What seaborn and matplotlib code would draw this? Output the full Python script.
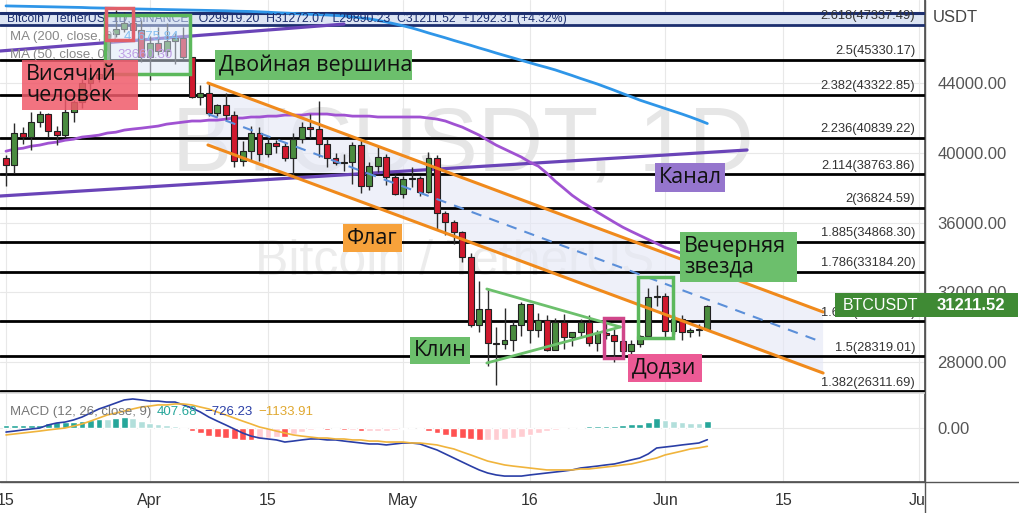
import numpy as np
import pandas as pd
import matplotlib
matplotlib.use("Agg")
import matplotlib.pyplot as plt
import matplotlib.dates as mdates
from matplotlib.patches import Rectangle, Polygon
from matplotlib.lines import Line2D
import seaborn as sns

# daily candles, Mar 15 - Jun 6
dates = pd.date_range("2022-03-15", "2022-06-06", freq="D")

opens = [39671, 39280, 41114, 40917, 41757, 42201, 41262, 41002, 42364, 42882,
         43991, 44313, 44511, 46827, 47122, 47434, 47067, 45510, 46283, 45811,
         46407, 46580, 45497, 43170, 43444, 42252, 42753, 42158, 39530, 40074,
         41147, 39942, 40552, 40378, 39678, 40801, 41493, 41358, 40480, 39709,
         39441, 39450, 40426, 38112, 39235, 39742, 38596, 37630, 38468, 38525,
         37728, 39690, 36552, 36014, 35468, 34038, 30100, 31018, 29104, 29031,
         29284, 30099, 31306, 29849, 30425, 28716, 30297, 29445, 29700, 30286,
         29101, 29655, 29542, 29201, 28630, 29031, 29468, 31734, 31802, 29805,
         30452, 29700, 29865, 29919.20]
highs = [39887, 41718, 41478, 42325, 42400, 42296, 41544, 43361, 43025, 44220,
         45094, 44792, 46999, 48189, 48096, 47700, 47600, 46720, 47213, 47444,
         46890, 47200, 45507, 43900, 43970, 42800, 43410, 42414, 40699, 41561,
         41500, 40870, 40709, 40595, 41116, 41760, 42199, 42976, 40795, 39980,
         39940, 40616, 40797, 39474, 40372, 39925, 38795, 38675, 39167, 38651,
         40023, 39845, 36675, 36146, 35510, 34243, 32659, 32163, 30033, 31083,
         30343, 31460, 31330, 30788, 30700, 30545, 30777, 29600, 30487, 30680,
         29835, 30223, 29876, 29397, 29250, 29531, 32222, 32399, 31982, 30690,
         30676, 29950, 30189, 31272.07]
lows = [38098, 38828, 40500, 40135, 41499, 40911, 40467, 40875, 41751, 42560,
        43579, 44071, 44422, 46663, 46950, 46445, 45200, 44200, 45620, 45530,
        45118, 45353, 43121, 42727, 42107, 42125, 41868, 39200, 39254, 39588,
        39551, 39766, 39991, 39546, 38536, 40571, 40820, 39751, 39177, 39285,
        38929, 38200, 37702, 37867, 38881, 38175, 37578, 37386, 38052, 37517,
        37670, 35571, 35258, 34785, 33713, 30033, 29730, 27785, 26700, 28751,
        28630, 29480, 29088, 29450, 28654, 28669, 28730, 28947, 29450, 28893,
        28631, 29294, 28019, 28282, 28450, 28839, 29299, 31200, 29301, 29595,
        29250, 29450, 29519, 29890.23]
closes = [39280, 41114, 40917, 41757, 42201, 41262, 41002, 42364, 42882, 43991,
          44313, 44511, 46827, 47122, 47434, 47067, 45510, 46283, 45811, 46407,
          46580, 45497, 43170, 43444, 42252, 42753, 42158, 39530, 40074, 41147,
          39942, 40552, 40378, 39678, 40801, 41493, 41358, 40480, 39709, 39441,
          39450, 40426, 38112, 39235, 39742, 38596, 37630, 38468, 38525, 37728,
          39690, 36552, 36014, 35468, 34038, 30100, 31018, 29104, 29031, 29284,
          30099, 31306, 29849, 30425, 28716, 30297, 29445, 29700, 30286, 29101,
          29655, 29542, 29201, 28630, 29031, 29468, 31734, 31802, 29805, 30452,
          29700, 29865, 29920, 31211.52]

ma200 = [48420, 48410, 48400, 48390, 48380, 48370, 48360, 48350, 48340, 48330,
         48310, 48300, 48290, 48280, 48270, 48250, 48240, 48230, 48220, 48210,
         48200, 48190, 48180, 48170, 48160, 48150, 48140, 48120, 48110, 48100,
         48080, 48060, 48030, 48010, 47990, 47960, 47940, 47920, 47900, 47870,
         47850, 47790, 47730, 47680, 47590, 47500, 47390, 47280, 47160, 47020,
         46870, 46730, 46590, 46440, 46300, 46160, 46010, 45870, 45720, 45580,
         45440, 45300, 45160, 45020, 44890, 44750, 44590, 44430, 44260, 44100,
         43940, 43760, 43580, 43390, 43210, 43020, 42860, 42700, 42540, 42380,
         42220, 42050, 41870, 41675.84]
ma50 = [40090, 40210, 40260, 40380, 40440, 40550, 40610, 40720, 40780, 40900,
        40950, 41010, 41130, 41180, 41300, 41360, 41410, 41470, 41530, 41640,
        41700, 41760, 41820, 41820, 41870, 41870, 41930, 41990, 41990, 42050,
        42050, 42100, 42100, 42160, 42160, 42160, 42220, 42220, 42220, 42160,
        42160, 42100, 42100, 42100, 42050, 42050, 42050, 42050, 42050, 42050,
        41990, 41930, 41820, 41640, 41470, 41240, 41010, 40720, 40440, 40210,
        39980, 39750, 39460, 39230, 38830, 38370, 37970, 37560, 37220, 36930,
        36590, 36300, 36010, 35730, 35490, 35260, 35030, 34800, 34570, 34400,
        34230, 34060, 33890, 33660.30]

macd_line = [-250, -190, -120, -60, 0, 190, 310, 370, 500, 680,
             930, 1180, 1360, 1550, 1740, 1800, 1740, 1670, 1670, 1610,
             1610, 1430, 1240, 990, 680, 430, 190, -60, -310, -500,
             -620, -680, -740, -870, -810, -740, -680, -680, -740, -740,
             -810, -870, -930, -990, -990, -1050, -990, -930, -930, -990,
             -1180, -1360, -1610, -1860, -2110, -2360, -2600, -2790, -2910, -2980,
             -2980, -2980, -2910, -2850, -2790, -2730, -2670, -2600, -2480, -2420,
             -2360, -2290, -2230, -2110, -1980, -1860, -1610, -1240, -1180, -1120,
             -1050, -990, -930, -726.23]
signal_line = [-430, -370, -310, -250, -190, -120, -60, 0, 120, 250,
               430, 620, 810, 930, 1050, 1180, 1300, 1360, 1430, 1430,
               1490, 1490, 1430, 1300, 1180, 990, 810, 620, 430, 250,
               60, -60, -190, -310, -430, -500, -560, -620, -620, -680,
               -680, -740, -740, -810, -810, -870, -870, -870, -930, -930,
               -990, -1050, -1180, -1300, -1490, -1670, -1860, -2050, -2170, -2290,
               -2360, -2420, -2480, -2540, -2600, -2600, -2600, -2600, -2540, -2540,
               -2480, -2420, -2360, -2290, -2230, -2110, -1980, -1860, -1670, -1550,
               -1430, -1300, -1230, -1133.91]

fib_names = ["2.618", "2.5", "2.382", "2.236", "2.114", "2", "1.885", "1.786", "1.618", "1.5", "1.382"]
fib_prices = [47337.49, 45330.17, 43322.85, 40839.22, 38763.86, 36824.59,
              34868.30, 33184.20, 30326.33, 28319.01, 26311.69]

price_ticks = [44000, 40000, 36000, 32000, 28000]
date_ticks = ["2022-03-15", "2022-04-01", "2022-04-15", "2022-05-01",
              "2022-05-16", "2022-06-01", "2022-06-15", "2022-07-01"]
date_labels = ["15", "Apr", "15", "May", "16", "Jun", "15", "Jul"]

# drawings: (days after Mar 15, price)
flag_upper = [(23.9, 44000), (96.7, 30870)]
flag_lower = [(23.9, 40445), (96.7, 27370)]
channel_upper = [(-0.7, 45835), (40.0, 47380)]
channel_lower = [(-0.7, 37520), (87.7, 40158)]
wedge_upper = [(56.9, 32190), (72.7, 30010)]
wedge_lower = [(56.9, 27945), (72.7, 30010)]
# pattern boxes: (day0, day1, price0, price1)
hang_box = (11.8, 15.0, 46466, 48300)
top_box = (11.7, 21.8, 44516, 47899)
doji_box = (70.8, 73.0, 28232, 30525)
star_box = (74.8, 78.9, 29378, 32876)

W, H = 1019, 513
sns.set_theme(style="white")
plt.rcParams["font.family"] = ["Liberation Sans", "DejaVu Sans"]

fig = plt.figure(figsize=(W / 100, H / 100), dpi=100)
ax = fig.add_axes([0, 1 - 393 / H, 925 / W, 393 / H])
axm = fig.add_axes([0, 1 - 482 / H, 925 / W, 89 / H])

t0 = mdates.date2num(dates[0])
x = mdates.date2num(dates)


def X(d):
    return t0 + d


def fx(px):
    return px / W


def fy(py):
    return 1 - py / H


# grid
for dt in date_ticks:
    xv = mdates.date2num(pd.Timestamp(dt))
    ax.axvline(xv, color="#e8e8e8", lw=0.8, zorder=0)
    axm.axvline(xv, color="#e8e8e8", lw=0.8, zorder=0)
for p in price_ticks:
    ax.axhline(p, color="#e8e8e8", lw=0.8, zorder=0)
axm.axhline(0, color="#e8e8e8", lw=0.8, zorder=0)

# watermark
ax.text(0.5, 0.625, "BTCUSDT, 1D", transform=ax.transAxes, ha="center", va="center",
        fontsize=65, color="#e6e6e6", zorder=0)
ax.text(0.492, 0.333, "Bitcoin / TetherUS", transform=ax.transAxes, ha="center", va="center",
        fontsize=36, color="#ececec", zorder=0)

# flag channel
(u0, u1), (l0, l1) = flag_upper, flag_lower
ax.add_patch(Polygon([(X(u0[0]), u0[1]), (X(u1[0]), u1[1]), (X(l1[0]), l1[1]), (X(l0[0]), l0[1])],
                     closed=True, facecolor="#e4e7f6", alpha=0.6, edgecolor="none", zorder=1))
ax.plot([X(u0[0]), X(u1[0])], [u0[1], u1[1]], color="#f08a1c", lw=2.2, zorder=8)
ax.plot([X(l0[0]), X(l1[0])], [l0[1], l1[1]], color="#f08a1c", lw=2.2, zorder=8)
ax.plot([X(u0[0]), X(u1[0])], [(u0[1] + l0[1]) / 2, (u1[1] + l1[1]) / 2],
        color="#5b8fd9", lw=1.5, dashes=(5, 4), zorder=8)

# fib levels
top_edge = 48014
ax.axhspan(fib_prices[0], top_edge, color="#dde5f4", zorder=2)
ax.axhline(top_edge, color="#1d2f6f", lw=2.2, zorder=3)
for name, p in zip(fib_names, fib_prices):
    col = "#1d2f6f" if name == "2.618" else "black"
    ax.axhline(p, color=col, lw=2, zorder=3)
    ax.annotate(f"{name}({p:.2f})", (X(107.6), p), xytext=(0, 2), textcoords="offset points",
                ha="right", va="bottom", fontsize=9.3, color="#333333", zorder=9)

# purple channel
for seg in (channel_upper, channel_lower):
    ax.plot([X(seg[0][0]), X(seg[1][0])], [seg[0][1], seg[1][1]], color="#6a44b8", lw=2.3, zorder=4)

# moving averages
sns.lineplot(x=x, y=ma200, ax=ax, color="#2f96e8", lw=2, zorder=4)
sns.lineplot(x=x, y=ma50, ax=ax, color="#a052d2", lw=2, zorder=4)

# candles
o, h, l, c = map(np.array, (opens, highs, lows, closes))
body_col = np.where(c >= o, "#4a8c3f", "#d0192e")
ax.vlines(x, l, h, color="#2b2b2b", lw=1, zorder=6)
ax.bar(x, np.abs(c - o), bottom=np.minimum(o, c), width=0.7, color=body_col,
       edgecolor="#222222", linewidth=0.8, zorder=7)

# wedge
for seg in (wedge_upper, wedge_lower):
    ax.plot([X(seg[0][0]), X(seg[1][0])], [seg[0][1], seg[1][1]], color="#6cc06c", lw=2, zorder=8)

# pattern boxes
for (d0, d1, p0, p1), ec, fc in [(top_box, "#5cb85c", (0.86, 0.9, 0.97, 0.5)),
                                 (hang_box, "#e0606a", "none"),
                                 (doji_box, "#d0468a", "none"),
                                 (star_box, "#5cb85c", "none")]:
    ax.add_patch(Rectangle((X(d0), p0), d1 - d0, p1 - p0, facecolor=fc, edgecolor=ec,
                           lw=2.5, zorder=10))

# legends inside the chart
ax.text(fx(7), fy(19), "Bitcoin / TetherUS, 1D, BINANCE   O29919.20  H31272.07  L29890.23  C31211.52  +1292.31 (+4.32%)",
        transform=fig.transFigure, fontsize=8.8, color="#1d2f6f", va="center", zorder=9)
ax.text(fx(10), fy(37), "MA (200, close, 0)", transform=fig.transFigure, fontsize=9.5,
        color="#888888", va="center", zorder=9)
ax.text(fx(124), fy(37), "41675.84", transform=fig.transFigure, fontsize=9.5,
        color="#2f96e8", va="center", zorder=9)
ax.text(fx(10), fy(55), "MA (50, close, 0)", transform=fig.transFigure, fontsize=9.5,
        color="#888888", va="center", zorder=9)
ax.text(fx(117), fy(55), "33660.30", transform=fig.transFigure, fontsize=9.5,
        color="#a052d2", va="center", zorder=9)

# MACD
m = np.array(macd_line)
s = np.array(signal_line)
hist = m - s
prev = np.r_[hist[0], hist[:-1]]
hcol = np.where(hist >= 0, np.where(hist >= prev, "#26a69a", "#b2dfdb"),
                np.where(hist < prev, "#ff5252", "#ffcdd2"))
axm.bar(x, hist, width=0.8, color=hcol, zorder=2)
sns.lineplot(x=x, y=m, ax=axm, color="#2a3ea6", lw=1.2, zorder=3)
sns.lineplot(x=x, y=s, ax=axm, color="#f0b43c", lw=1.2, zorder=3)
axm.text(fx(10), fy(412), "MACD (12, 26, close, 9)", transform=fig.transFigure, fontsize=9.5,
         color="#777777", va="center", zorder=9)
axm.text(fx(157), fy(412), "407.68", transform=fig.transFigure, fontsize=9.5,
         color="#26a69a", va="center", zorder=9)
axm.text(fx(204), fy(412), "\u2212726.23", transform=fig.transFigure, fontsize=9.5,
         color="#2a3ea6", va="center", zorder=9)
axm.text(fx(258), fy(412), "\u22121133.91", transform=fig.transFigure, fontsize=9.5,
         color="#e0a830", va="center", zorder=9)

# axes
for a in (ax, axm):
    a.set_xlim(t0 - 0.71, t0 + 108.76)
    a.set_xlabel("")
    a.set_ylabel("")
    a.yaxis.tick_right()
    for side in ("top", "left", "bottom"):
        a.spines[side].set_visible(False)
    a.spines["right"].set_color("#555555")
ax.set_ylim(26225, 48759)
axm.set_ylim(-3348, 2170)
ax.set_xticks([])
ax.set_yticks(price_ticks)
ax.set_yticklabels([f"{p:.2f}" for p in price_ticks])
axm.set_yticks([0])
axm.set_yticklabels(["0.00"])
for a in (ax, axm):
    a.tick_params(axis="y", length=0, pad=9, labelsize=12, labelcolor="#555555")
axm.spines["top"].set_visible(True)
axm.spines["top"].set_color("#dddddd")
axm.spines["bottom"].set_visible(True)
axm.spines["bottom"].set_color("#555555")
axm.set_xticks([mdates.date2num(pd.Timestamp(d)) for d in date_ticks])
axm.set_xticklabels(date_labels)
axm.tick_params(axis="x", length=0, pad=8, labelsize=11.5, labelcolor="#333333")

# frame pieces outside the plot area
fig.patches.append(Rectangle((fx(925), 0), 1 - fx(925), fy(483), transform=fig.transFigure,
                             facecolor="white", edgecolor="none", zorder=1))
fig.add_artist(Line2D([fx(924.5), fx(924.5)], [0, 1], color="#555555", lw=1, zorder=2))
fig.add_artist(Line2D([0, 1], [fy(482), fy(482)], color="#555555", lw=1, zorder=2))
fig.text(fx(933), fy(18), "USDT", fontsize=12, color="#444444", va="center", zorder=3)

# price tag
fig.patches.append(Rectangle((fx(835), fy(317)), (1018 - 835) / W, 24 / H, transform=fig.transFigure,
                             facecolor="#3f8a34", edgecolor="none", zorder=5))
fig.text(fx(843), fy(305), "BTCUSDT", fontsize=11.5, color="white", va="center", zorder=6)
fig.text(fx(937), fy(305), "31211.52", fontsize=12, color="white", va="center",
         fontweight="bold", zorder=6)

# text labels
label_font = ["Open Sans", "DejaVu Sans"]
labels = [
    (22, 60, 138, 110, "Висячий\nчеловек", "#f05a6a", 0.85),
    (215, 50, 412, 80, "Двойная вершина", "#6cbf6c", 1),
    (343, 224, 402, 252, "Флаг", "#f7a23b", 1),
    (655, 163, 725, 192, "Канал", "#9575cd", 1),
    (680, 232, 797, 282, "Вечерняя\nзвезда", "#6cbf6c", 1),
    (410, 337, 470, 364, "Клин", "#6cbf6c", 1),
    (628, 354, 702, 382, "Додзи", "#ec5a95", 1),
]
for x0, y0, x1, y1, txt, fc, al in labels:
    fig.patches.append(Rectangle((fx(x0), fy(y1)), (x1 - x0) / W, (y1 - y0) / H,
                                 transform=fig.transFigure, facecolor=fc, alpha=al,
                                 edgecolor="none", zorder=5))
    fig.text(fx(x0 + 4), fy((y0 + y1) / 2), txt, ha="left", va="center", fontsize=15.5,
             color="#111111", family=label_font, linespacing=0.95, zorder=6)

fig.savefig("out.png", dpi=100)
